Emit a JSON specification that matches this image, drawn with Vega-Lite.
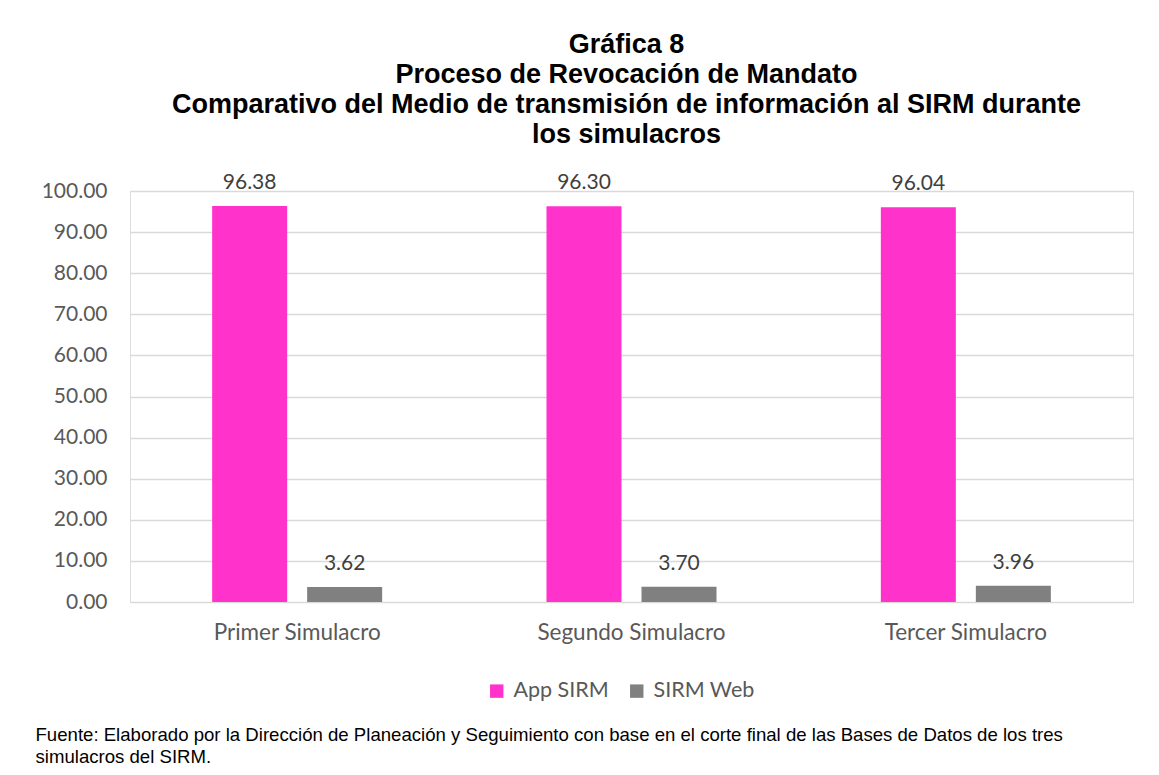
{
  "$schema": "https://vega.github.io/schema/vega-lite/v6.json",
  "width": 1003,
  "height": 411,
  "autosize": {"type": "none"},
  "padding": {"left": 130, "top": 191, "right": 26, "bottom": 173},
  "background": "white",
  "title": {
    "text": ["Gráfica 8", "Proceso de Revocación de Mandato", "Comparativo del Medio de transmisión de información al SIRM durante", "los simulacros"],
    "font": "Liberation Sans",
    "fontSize": 27,
    "fontWeight": "bold",
    "color": "#000000",
    "lineHeight": 30,
    "anchor": "middle",
    "dx": -5,
    "offset": 23
  },
  "data": {
    "values": [
      {"simulacro": "Primer Simulacro", "medio": "App SIRM", "valor": 96.38},
      {"simulacro": "Primer Simulacro", "medio": "SIRM Web", "valor": 3.62},
      {"simulacro": "Segundo Simulacro", "medio": "App SIRM", "valor": 96.30},
      {"simulacro": "Segundo Simulacro", "medio": "SIRM Web", "valor": 3.70},
      {"simulacro": "Tercer Simulacro", "medio": "App SIRM", "valor": 96.04},
      {"simulacro": "Tercer Simulacro", "medio": "SIRM Web", "valor": 3.96}
    ]
  },
  "encoding": {
    "x": {
      "field": "simulacro",
      "type": "nominal",
      "sort": ["Primer Simulacro", "Segundo Simulacro", "Tercer Simulacro"],
      "scale": {"paddingInner": 0.4915, "paddingOuter": 0.2457},
      "axis": {
        "title": ["Fuente: Elaborado por la Dirección de Planeación y Seguimiento con base en el corte final de las Bases de Datos de los tres", "simulacros del SIRM."],
        "titleFont": "Liberation Sans",
        "titleFontSize": 18.6,
        "titleFontWeight": "normal",
        "titleColor": "#000000",
        "titleAnchor": "start",
        "titleAlign": "left",
        "titleBaseline": "top",
        "titleX": -95,
        "titleY": 123,
        "titleLineHeight": 22,
        "labelFont": "Lato",
        "labelFontSize": 22.5,
        "labelColor": "#595959",
        "labelPadding": 19,
        "labelAngle": 0,
        "labelLimit": 400,
        "labelOverlap": false,
        "ticks": false,
        "domain": false,
        "grid": false
      }
    },
    "xOffset": {
      "field": "medio",
      "type": "nominal",
      "sort": ["App SIRM", "SIRM Web"],
      "scale": {"paddingInner": 0.2105, "paddingOuter": 0}
    },
    "y": {
      "field": "valor",
      "type": "quantitative",
      "scale": {"domain": [0, 100], "nice": false},
      "axis": {
        "title": null,
        "values": [0, 10, 20, 30, 40, 50, 60, 70, 80, 90, 100],
        "format": ".2f",
        "labelFont": "Lato",
        "labelFontSize": 21,
        "labelColor": "#595959",
        "labelPadding": 23,
        "ticks": false,
        "domain": false,
        "gridColor": "#d9d9d9",
        "gridWidth": 1.5
      }
    }
  },
  "layer": [
    {
      "mark": {"type": "bar"},
      "encoding": {
        "color": {
          "field": "medio",
          "type": "nominal",
          "scale": {"domain": ["App SIRM", "SIRM Web"], "range": ["#FF33CC", "#808080"]},
          "legend": {
            "orient": "none",
            "legendX": 356,
            "legendY": 489,
            "direction": "horizontal",
            "title": null,
            "symbolType": "square",
            "symbolSize": 180,
            "symbolStrokeWidth": 0,
            "symbolOpacity": 1,
            "labelFont": "Lato",
            "labelFontSize": 21.5,
            "labelColor": "#595959",
            "columnPadding": 17,
            "labelOffset": 6
          }
        }
      }
    },
    {
      "mark": {"type": "text", "dy": -17, "baseline": "alphabetic", "font": "Lato", "fontSize": 21, "color": "#404040"},
      "encoding": {
        "text": {"field": "valor", "type": "quantitative", "format": ".2f"}
      }
    }
  ]
}
